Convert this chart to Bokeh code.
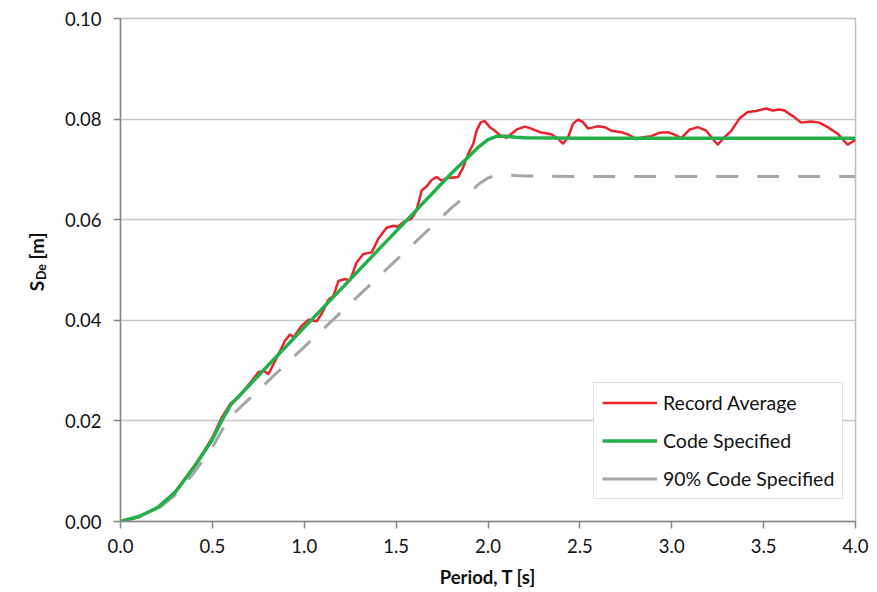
import math
from bokeh.plotting import figure
from bokeh.models import (Range1d, FixedTicker, PrintfTickFormatter, Legend, LegendItem, Label)
from bokeh.embed import file_html
from bokeh.resources import INLINE

# ---- data ----
code_T = [0, 0.1, 0.2, 0.3, 0.4, 0.5, 0.55, 0.6, 0.8, 1.0, 1.2, 1.4, 1.6, 1.8,
          1.9, 1.95, 2.0, 2.05, 2.1, 2.15, 2.2, 2.5, 3.0, 3.5, 4.0]
code_V = [0, 0.0010, 0.0027, 0.0059, 0.0108, 0.0163, 0.0200, 0.0232, 0.0309, 0.0386,
          0.0462, 0.0539, 0.0615, 0.0692, 0.0727, 0.0745, 0.0759, 0.0766, 0.0766,
          0.0764, 0.0763, 0.0762, 0.0762, 0.0762, 0.0762]

code90_T = [0, 0.1, 0.2, 0.3, 0.4, 0.5, 0.55, 0.6, 0.8, 1.0, 1.2, 1.4, 1.6, 1.8,
            1.9, 1.95, 2.0, 2.05, 2.1, 2.15, 2.2, 2.5, 3.0, 3.5, 4.0]
code90_V = [0, 0.0009, 0.0024, 0.0053, 0.0097, 0.0147, 0.0180, 0.0209, 0.0278, 0.0347,
            0.0416, 0.0485, 0.0554, 0.0623, 0.0654, 0.0671, 0.0683, 0.0689, 0.0689,
            0.0688, 0.0687, 0.0686, 0.0686, 0.0686, 0.0686]

rec_T = [0, 0.1, 0.2, 0.3, 0.4, 0.45, 0.5, 0.55, 0.597, 0.642, 0.715, 0.751, 0.778,
         0.805, 0.851, 0.896, 0.923, 0.941, 0.986, 1.023, 1.068, 1.095, 1.131, 1.159,
         1.186, 1.222, 1.249, 1.285, 1.322, 1.367, 1.403, 1.448, 1.485, 1.510, 1.539,
         1.584, 1.611, 1.639, 1.666, 1.693, 1.720, 1.747, 1.784, 1.838, 1.865, 1.892,
         1.920, 1.938, 1.961, 1.983, 2.010, 2.037, 2.064, 2.101, 2.128, 2.155, 2.200,
         2.236, 2.282, 2.345, 2.381, 2.409, 2.436, 2.463, 2.490, 2.517, 2.545, 2.599,
         2.635, 2.671, 2.726, 2.771, 2.807, 2.843, 2.889, 2.934, 2.979, 3.015, 3.052,
         3.097, 3.142, 3.188, 3.224, 3.251, 3.278, 3.323, 3.368, 3.414, 3.459, 3.514,
         3.550, 3.586, 3.613, 3.659, 3.704, 3.758, 3.803, 3.849, 3.903, 3.957, 4.0]
rec_V = [0, 0.0009, 0.0027, 0.0060, 0.0110, 0.0137, 0.0167, 0.0206, 0.0234, 0.0247,
         0.0280, 0.0297, 0.0300, 0.0293, 0.0326, 0.0360, 0.0372, 0.0366, 0.0389, 0.0401,
         0.0398, 0.0413, 0.0441, 0.0449, 0.0478, 0.0482, 0.0479, 0.0515, 0.0532, 0.0535,
         0.0562, 0.0584, 0.0588, 0.0586, 0.0595, 0.0602, 0.0618, 0.0658, 0.0666, 0.0679,
         0.0685, 0.0678, 0.0683, 0.0685, 0.0704, 0.0731, 0.0751, 0.0777, 0.0794, 0.0796,
         0.0784, 0.0777, 0.0768, 0.0763, 0.0771, 0.0779, 0.0785, 0.0781, 0.0774, 0.0770,
         0.0761, 0.0751, 0.0764, 0.0791, 0.0799, 0.0794, 0.0781, 0.0786, 0.0784, 0.0777,
         0.0774, 0.0768, 0.0760, 0.0764, 0.0766, 0.0773, 0.0774, 0.0769, 0.0762, 0.0779,
         0.0784, 0.0777, 0.0760, 0.0749, 0.0761, 0.0776, 0.0801, 0.0814, 0.0816, 0.0821,
         0.0817, 0.0819, 0.0817, 0.0806, 0.0793, 0.0795, 0.0793, 0.0784, 0.0771, 0.0749,
         0.0759]

x_ticks = [0, 0.5, 1.0, 1.5, 2.0, 2.5, 3.0, 3.5, 4.0]
y_ticks = [0, 0.02, 0.04, 0.06, 0.08, 0.10]

labels = ["Record Average", "Code Specified", "90% Code Specified"]
ylabel_parts = ["S", "De", "[m]"]

FONT = "Lato"
RED = "#E8232A"
GREEN = "#22B04B"
GRAY = "#A6A6A6"
TXT = "#111111"

p = figure(width=877, height=592, output_backend="svg", toolbar_location=None,
           x_range=Range1d(0, 4), y_range=Range1d(0, 0.1),
           min_border_left=119, min_border_right=22, min_border_top=18,
           min_border_bottom=71)

p.outline_line_color = "#BFBFBF"
p.outline_line_width = 1.5
p.background_fill_color = "white"
p.border_fill_color = "white"

# grid
p.xgrid.visible = False
p.ygrid.ticker = FixedTicker(ticks=y_ticks)
p.ygrid.grid_line_color = "#C8C8C8"
p.ygrid.grid_line_width = 1.5

# axes
for ax in (p.xaxis[0], p.yaxis[0]):
    ax.axis_line_color = "#868686"
    ax.axis_line_width = 1.5
    ax.major_tick_line_color = "#868686"
    ax.major_tick_line_width = 1.5
    ax.major_tick_in = 0
    ax.major_tick_out = 7
    ax.minor_tick_line_color = None
    ax.major_label_text_font = FONT
    ax.major_label_text_font_size = "18.5px"
    ax.major_label_text_color = TXT

p.xaxis.ticker = FixedTicker(ticks=x_ticks)
p.xaxis.formatter = PrintfTickFormatter(format="%.1f")
p.xaxis.major_label_standoff = 10
p.xaxis.axis_label = "Period, T [s]"
p.xaxis.axis_label_text_font = FONT
p.xaxis.axis_label_text_font_size = "18.5px"
p.xaxis.axis_label_text_font_style = "bold"
p.xaxis.axis_label_text_color = TXT
p.xaxis.axis_label_standoff = 10

p.yaxis.ticker = FixedTicker(ticks=y_ticks)
p.yaxis.formatter = PrintfTickFormatter(format="%.2f")
p.yaxis.major_label_standoff = 12

# series
r_gray = p.line(code90_T, code90_V, line_color=GRAY, line_width=3, line_dash="22 19")
r_red = p.line(rec_T, rec_V, line_color=RED, line_width=2.5)
r_green = p.line(code_T, code_V, line_color=GREEN, line_width=3.5)
# solid gray swatch for the legend, kept outside the visible ranges
r_gray_leg = p.line([-2, -1], [-1, -1], line_color=GRAY, line_width=3)

legend = Legend(items=[LegendItem(label=labels[0], renderers=[r_red]),
                       LegendItem(label=labels[1], renderers=[r_green]),
                       LegendItem(label=labels[2], renderers=[r_gray_leg])],
                location=(473, 22))
legend.label_text_font = FONT
legend.label_text_font_size = "19.5px"
legend.label_text_color = TXT
legend.glyph_width = 55
legend.glyph_height = 23
legend.label_height = 23
legend.spacing = 15
legend.padding = 8
legend.margin = 0
legend.label_standoff = 6
legend.border_line_color = "#BFBFBF"
legend.border_line_width = 1.5
legend.background_fill_color = "white"
legend.background_fill_alpha = 1.0
p.add_layout(legend, "center")

# y axis label with subscript, built from pieces placed in the left panel
ylab_x = -0.455
common = dict(x_units="data", y_units="data", angle=math.pi / 2, text_align="left",
              text_baseline="middle", text_font=FONT, text_font_style="bold",
              text_color=TXT)
p.add_layout(Label(x=ylab_x, y=0.0458, text=ylabel_parts[0], text_font_size="19px", **common), "left")
p.add_layout(Label(x=ylab_x + 0.027, y=0.0480, text=ylabel_parts[1], text_font_size="12.5px", **common), "left")
p.add_layout(Label(x=ylab_x, y=0.0521, text=ylabel_parts[2], text_font_size="19px", **common), "left")

open("out.html", "w").write(file_html(p, INLINE))
